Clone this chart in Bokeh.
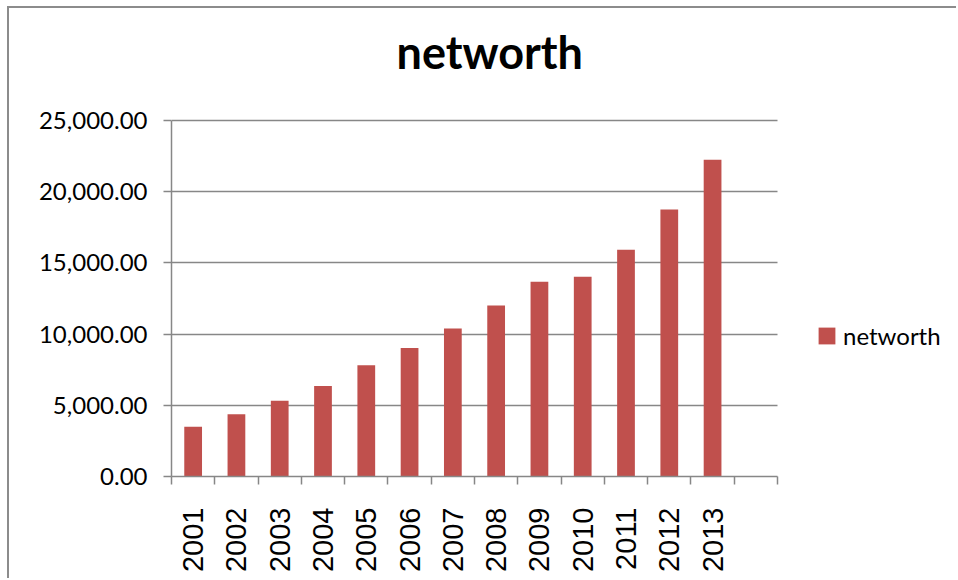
from bokeh.plotting import figure
from bokeh.models import (ColumnDataSource, FixedTicker, NumeralTickFormatter,
                          Legend, LegendItem, Range1d)
from bokeh.embed import file_html
from bokeh.resources import INLINE
import math

# ---- data ----
years = ["2001", "2002", "2003", "2004", "2005", "2006", "2007",
         "2008", "2009", "2010", "2011", "2012", "2013"]
networth = [3490, 4380, 5320, 6350, 7820, 9020, 10390,
            12010, 13670, 14020, 15920, 18750, 22240]
series_name = "networth"
y_ticks = [0, 5000, 10000, 15000, 20000, 25000]
y_max = 25000
n_slots = len(years) + 1  # Excel left one empty category slot

pos = [i + 1 for i in range(len(years))]
boundaries = [i + 0.5 for i in range(n_slots + 1)]

src = ColumnDataSource(dict(x=pos, top=networth, year=years))

GRAY = "#878787"
RED = "#C0504D"

# frame spans the axes plus room for the legend (right) and title (top)
AXIS_W_PX, FRAME_W_PX = 606, 777
AXIS_H_PX, FRAME_H_PX = 356, 380
x_end = 0.5 + n_slots * FRAME_W_PX / AXIS_W_PX
y_end = y_max * FRAME_H_PX / AXIS_H_PX

p = figure(width=949, height=572, output_backend="svg", toolbar_location=None,
           x_range=Range1d(0.5, x_end), y_range=Range1d(0, y_end),
           min_border_left=162, min_border_right=10,
           min_border_top=88, min_border_bottom=104)
p.styles = {"margin-left": "9px", "margin-top": "8px",
            "box-shadow": "-2px -2px 0 #8c8c8c"}

r = p.vbar(x="x", top="top", width=0.41, source=src, fill_color=RED,
           line_color=None)

p.title.text = "networth"
p.title.align = "left"
p.title.vertical_align = "top"
p.title.text_font = "Lato"
p.title.text_font_style = "bold"
p.title.text_font_size = "45px"
p.title.text_color = "#000000"
p.title.offset = 225
p.title.standoff = 32

p.outline_line_color = None
p.background_fill_color = "white"
p.border_fill_color = "white"

# grid
p.xgrid.grid_line_color = None
p.ygrid.ticker = FixedTicker(ticks=y_ticks)
p.ygrid.grid_line_color = GRAY
p.ygrid.grid_line_width = 1.5
p.ygrid.cross_bounds = (0.5, n_slots + 0.5)

# y axis
yax = p.yaxis[0]
yax.bounds = (0, y_max)
yax.ticker = FixedTicker(ticks=y_ticks)
yax.formatter = NumeralTickFormatter(format="0,0.00")
yax.axis_line_color = GRAY
yax.axis_line_width = 1.5
yax.major_tick_line_color = GRAY
yax.major_tick_line_width = 1.5
yax.major_tick_in = 0
yax.major_tick_out = 8
yax.minor_tick_line_color = None
yax.major_label_standoff = 16
yax.major_label_text_font = "Lato"
yax.major_label_text_font_size = "24px"
yax.major_label_text_color = "#000000"

# x axis
xax = p.xaxis[0]
xax.bounds = (0.5, n_slots + 0.5)
xax.ticker = FixedTicker(ticks=pos, minor_ticks=boundaries)
xax.major_label_overrides = {x: y for x, y in zip(pos, years)}
xax.major_label_orientation = math.pi / 2
xax.axis_line_color = GRAY
xax.axis_line_width = 1.5
xax.major_tick_line_color = None
xax.major_tick_in = 0
xax.major_tick_out = 0
xax.minor_tick_line_color = GRAY
xax.minor_tick_line_width = 1.5
xax.minor_tick_in = 0
xax.minor_tick_out = 8
xax.major_label_standoff = 23
xax.major_label_text_font = "Liberation Sans"
xax.major_label_text_font_size = "29px"
xax.major_label_text_color = "#000000"

legend = Legend(items=[LegendItem(label=series_name, renderers=[r])],
                location=(645, 126), orientation="vertical")
legend.padding = 0
legend.margin = 0
legend.border_line_color = None
legend.background_fill_alpha = 0
legend.glyph_width = 21
legend.glyph_height = 21
legend.label_height = 20
legend.label_standoff = 6
legend.label_text_font = "Lato"
legend.label_text_font_size = "24px"
legend.label_text_color = "#000000"
legend.label_text_baseline = "middle"
p.add_layout(legend, "center")

open("out.html", "w").write(file_html(p, INLINE))
